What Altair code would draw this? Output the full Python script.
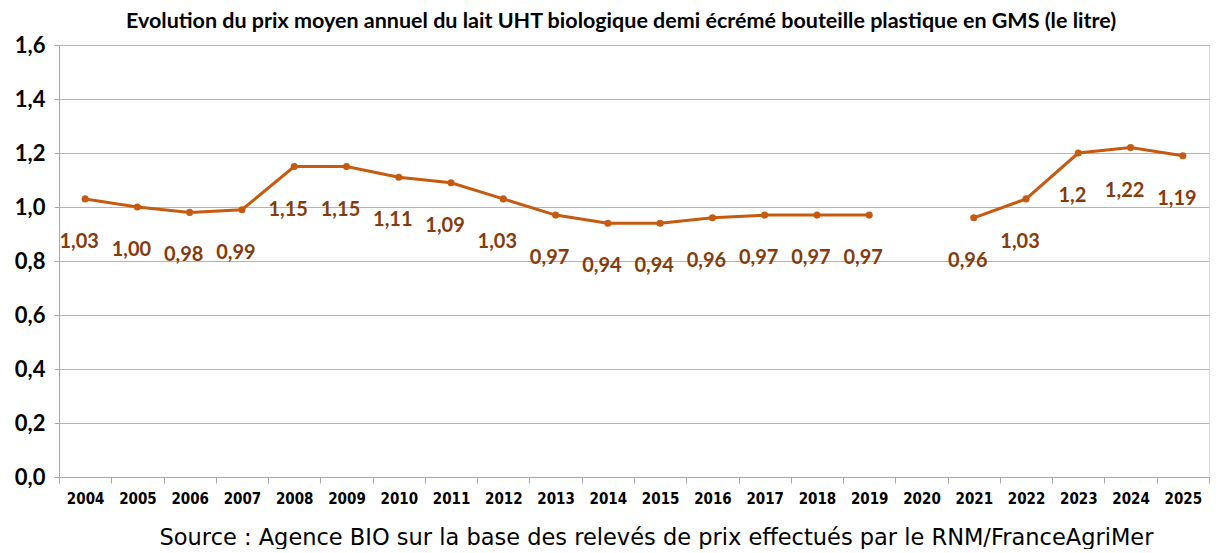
import altair as alt
import pandas as pd

years = [str(y) for y in range(2004, 2026)]
values = [1.03, 1.00, 0.98, 0.99, 1.15, 1.15, 1.11, 1.09, 1.03, 0.97, 0.94,
          0.94, 0.96, 0.97, 0.97, 0.97, None, 0.96, 1.03, 1.20, 1.22, 1.19]
labels = ["1,03", "1,00", "0,98", "0,99", "1,15", "1,15", "1,11", "1,09", "1,03",
          "0,97", "0,94", "0,94", "0,96", "0,97", "0,97", "0,97", "", "0,96",
          "1,03", "1,2", "1,22", "1,19"]
y_ticks = [0, 0.2, 0.4, 0.6, 0.8, 1.0, 1.2, 1.4, 1.6]

title = "Evolution du prix moyen annuel du lait UHT biologique demi écrémé bouteille plastique en GMS (le litre)"
source = "Source : Agence BIO sur la base des relevés de prix effectués par le RNM/FranceAgriMer"

df = pd.DataFrame({"year": years, "value": values, "label": labels})

LINE = "#C55A11"
LABEL = "#843C0C"
GRID = "#B4B4B4"

x = alt.X(
    "year:N",
    scale=alt.Scale(type="band", domain=years, paddingInner=0, paddingOuter=0),
    axis=alt.Axis(
        title=source,
        labelAngle=0,
        labelFont="DejaVu Sans Condensed",
        labelFontSize=15,
        labelFontWeight="bold",
        labelColor="#000000",
        labelPadding=8,
        tickBand="extent",
        tickSize=6,
        tickColor="#A6A6A6",
        domainColor="#A6A6A6",
        titleFont="DejaVu Sans",
        titleFontSize=22.5,
        titleFontWeight="normal",
        titleColor="#000000",
        titlePadding=20,
        titleX=597,
        grid=False,
    ),
)
y = alt.Y(
    "value:Q",
    scale=alt.Scale(domain=[0, 1.6]),
    axis=alt.Axis(
        title=None,
        values=y_ticks,
        labelExpr="replace(format(datum.value, '.1f'), '.', ',')",
        labelFont="Lato",
        labelFontSize=22,
        labelFontWeight="bold",
        labelColor="#000000",
        labelPadding=9,
        tickSize=5,
        tickColor="#A6A6A6",
        domainColor="#A6A6A6",
        gridColor=GRID,
        grid=True,
    ),
)

base = alt.Chart(df).transform_filter("isValid(datum.value)").transform_calculate(
    segment="toNumber(datum.year) < 2020 ? 'a' : 'b'"
)

line = base.mark_line(color=LINE, strokeWidth=3).encode(x=x, y=y, detail="segment:N")
points = base.mark_circle(color=LINE, size=50, opacity=1).encode(x=x, y=y)
text = base.mark_text(
    color=LABEL, font="Lato", fontSize=20, fontWeight="bold", dy=43, dx=-6
).encode(x=x, y=y, text="label:N")

chart = (
    alt.layer(line, points, text)
    .properties(
        width=1150,
        height=432,
        title=alt.TitleParams(
            text=title,
            font="Lato",
            fontSize=21.5,
            fontWeight="bold",
            color="#000000",
            anchor="middle",
            offset=2,
            dx=-13,
        ),
        padding={"left": 6, "top": 2, "right": 0, "bottom": 0},
    )
    .configure_view(stroke=GRID)
    .configure(background="#FFFFFF")
)

chart.save("out.html", embed_options={"renderer": "svg", "actions": False})
